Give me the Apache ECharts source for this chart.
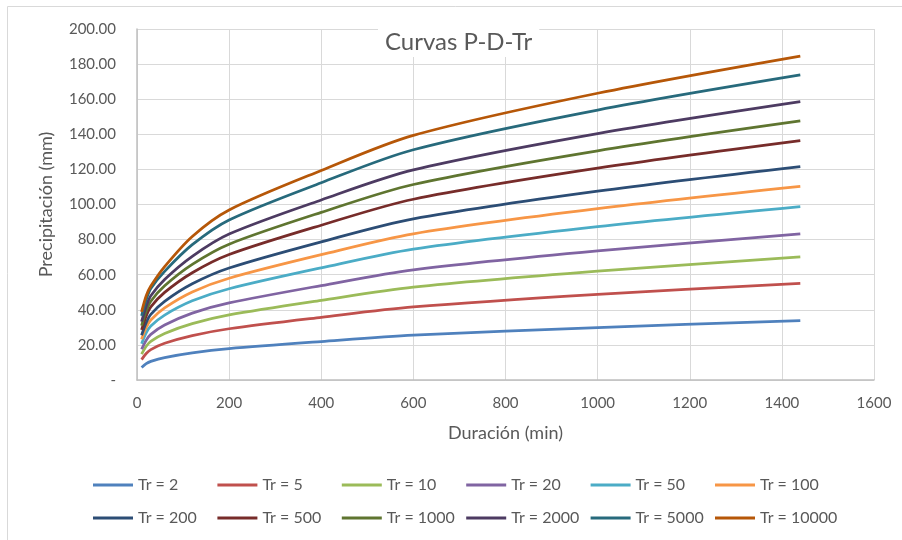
<!DOCTYPE html>
<html>
<head>
    <title>Curvas P-D-Tr</title>
    <script src="https://cdn.jsdelivr.net/npm/echarts@6.0.0/dist/echarts.min.js"></script>
    <style>
        html, body { margin: 0; padding: 0; background: #fff; }
    </style>
</head>
<body>
    <div id="chart" style="width: 902px;height:540px;"></div>

    <script>
        // duraciones (min)
        const durations = [10, 20, 30, 60, 120, 200, 400, 600, 1000, 1440];

        const seriesNames = ['Tr = 2', 'Tr = 5', 'Tr = 10', 'Tr = 20', 'Tr = 50', 'Tr = 100',
            'Tr = 200', 'Tr = 500', 'Tr = 1000', 'Tr = 2000', 'Tr = 5000', 'Tr = 10000'];

        // precipitacion (mm)
        const tr2 = [7.1, 9.3, 10.6, 12.8, 15.5, 17.9, 21.9, 25.5, 29.9, 33.8];
        const tr5 = [11.6, 15.1, 17.3, 20.9, 25.3, 29.2, 35.7, 41.6, 48.8, 55.1];
        const tr10 = [14.7, 19.2, 22.0, 26.5, 32.1, 37.1, 45.4, 52.9, 62.0, 70.1];
        const tr20 = [17.5, 22.7, 26.0, 31.3, 38.1, 43.9, 53.8, 62.8, 73.6, 83.2];
        const tr50 = [20.7, 26.9, 30.8, 37.0, 45.1, 52.0, 63.9, 74.6, 87.4, 98.8];
        const tr100 = [23.2, 29.9, 34.2, 41.1, 50.2, 58.0, 71.4, 83.3, 97.6, 110.3];
        const tr200 = [25.5, 32.7, 37.4, 44.8, 54.8, 63.8, 78.7, 91.8, 107.6, 121.6];
        const tr500 = [28.6, 36.5, 41.7, 49.9, 61.1, 71.5, 88.2, 103.0, 120.7, 136.4];
        const tr1000 = [31.0, 39.3, 44.9, 53.7, 65.9, 77.4, 95.5, 111.4, 130.6, 147.6];
        const tr2000 = [33.3, 42.0, 48.0, 57.3, 70.5, 83.2, 102.6, 119.7, 140.4, 158.6];
        const tr5000 = [36.5, 45.7, 52.1, 61.9, 77.1, 91.2, 112.4, 131.2, 153.8, 173.8];
        const tr10000 = [38.8, 48.0, 53.5, 64.6, 81.8, 96.9, 119.4, 139.4, 163.4, 184.6];

        const allValues = [tr2, tr5, tr10, tr20, tr50, tr100, tr200, tr500, tr1000, tr2000, tr5000, tr10000];

        const colors = ['#4F81BD', '#C0504D', '#9BBB59', '#8064A2', '#4BACC6', '#F79646',
            '#2C4D75', '#772C2A', '#5F7530', '#4D3B62', '#276A7C', '#B65708'];

        const font = 'Lato, "Noto Sans", sans-serif';
        const grey = '#595959';

        const series = seriesNames.map(function (name, i) {
            return {
                name: name,
                type: 'line',
                smooth: 0.3,
                symbol: 'none',
                lineStyle: { width: 2.75, color: colors[i] },
                itemStyle: { color: colors[i] },
                data: durations.map(function (d, j) { return [d, allValues[i][j]]; })
            };
        });

        // one legend per item so they sit on a fixed grid (2 rows x 6)
        const legends = seriesNames.map(function (name, i) {
            return {
                data: [name],
                left: 93 + (i % 6) * 124.4,
                top: i < 6 ? 477 : 510,
                padding: 0,
                icon: 'rect',
                itemWidth: 40,
                itemHeight: 3,
                textStyle: { color: grey, fontSize: 16, fontFamily: font }
            };
        });

        const myChart = echarts.init(document.getElementById('chart'));
        myChart.setOption({
            animation: false,
            color: colors,
            title: {
                text: 'Curvas P-D-Tr',
                left: 378,
                top: 28,
                padding: [2, 7, 3, 7],
                backgroundColor: '#fff',
                textStyle: { color: grey, fontSize: 24, fontWeight: 'normal', fontFamily: font }
            },
            graphic: [{
                type: 'rect',
                shape: { x: 7.5, y: 6.5, width: 900, height: 540 },
                style: { fill: 'none', stroke: '#D9D9D9', lineWidth: 1 },
                silent: true
            }],
            legend: legends,
            grid: { left: 137, right: 28, top: 29, bottom: 160 },
            xAxis: {
                type: 'value',
                min: 0, max: 1600, interval: 200,
                name: 'Duración (min)',
                nameLocation: 'middle',
                nameGap: 44,
                nameTextStyle: { color: grey, fontSize: 18, fontFamily: font },
                axisLine: { show: true, lineStyle: { color: '#BFBFBF', width: 1.5 } },
                axisTick: { show: false },
                axisLabel: {
                    color: grey, fontSize: 15, fontFamily: font, margin: 16,
                    formatter: function (v) { return String(v); }
                },
                splitLine: { show: true, lineStyle: { color: '#D9D9D9', width: 1 } }
            },
            yAxis: {
                type: 'value',
                min: 0, max: 200, interval: 20,
                name: 'Precipitación (mm)',
                nameLocation: 'middle',
                nameGap: 82,
                nameTextStyle: { color: grey, fontSize: 18, fontFamily: font },
                axisLine: { show: true, lineStyle: { color: '#BFBFBF', width: 1.5 } },
                axisTick: { show: false },
                axisLabel: {
                    color: grey, fontSize: 15, fontFamily: font, margin: 21,
                    formatter: function (v) { return v === 0 ? '-' : v.toFixed(2); }
                },
                splitLine: { show: true, lineStyle: { color: '#D9D9D9', width: 1 } }
            },
            series: series
        });
    </script>
</body>
</html>
